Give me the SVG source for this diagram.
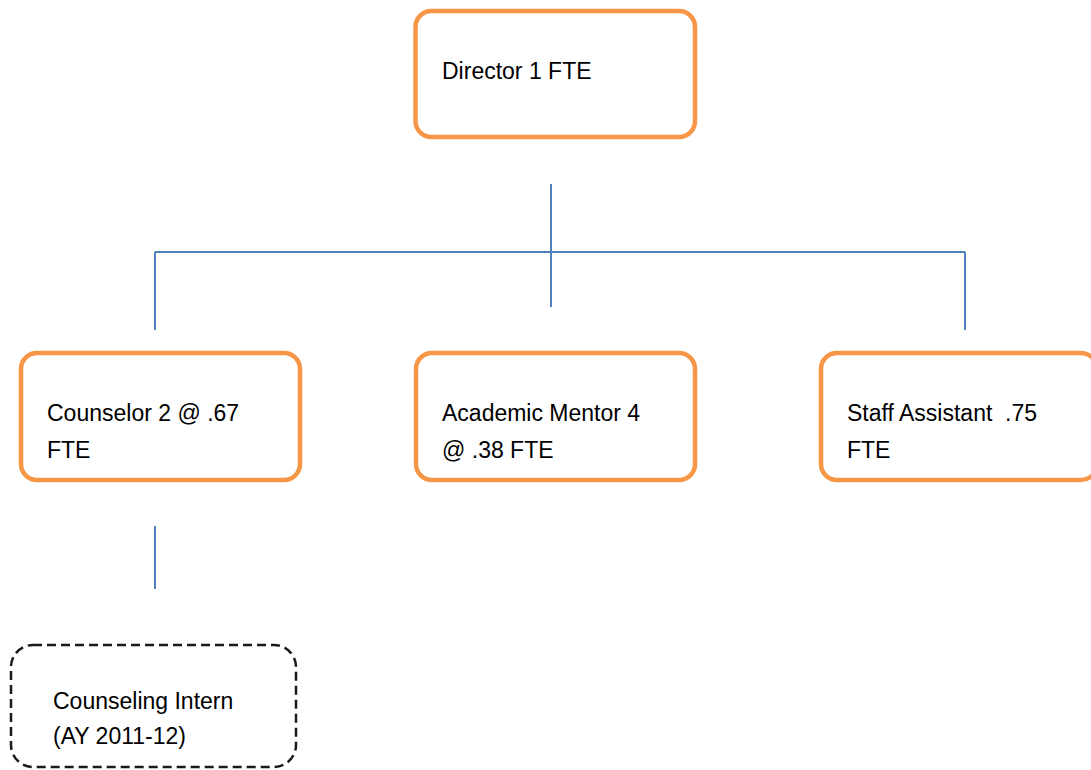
<svg xmlns="http://www.w3.org/2000/svg" width="1091" height="770" viewBox="0 0 1091 770">
<style>
.box{fill:#fff;stroke:#F79646;stroke-width:4.5}
.dash{fill:#fff;stroke:#1a1a1a;stroke-width:2.5;stroke-dasharray:9 5}
.ln{stroke:#4F81BD;stroke-width:2;fill:none}
text{font-family:"Liberation Sans",Arial,sans-serif;font-size:23px;fill:#000}
</style>
<rect width="1091" height="770" fill="#fff"/>
<g id="connectors">
<line class="ln" x1="551" y1="184" x2="551" y2="307"/>
<line class="ln" x1="155" y1="252" x2="965" y2="252"/>
<line class="ln" x1="155" y1="252" x2="155" y2="330"/>
<line class="ln" x1="965" y1="252" x2="965" y2="330"/>
<line class="ln" x1="155" y1="526" x2="155" y2="589"/>
</g>
<g id="director">
<rect class="box" x="415.5" y="11" width="279.5" height="126" rx="16"/>
<text x="442" y="79">Director 1 FTE</text>
</g>
<g id="counselor">
<rect class="box" x="21" y="353" width="279" height="127" rx="16"/>
<text x="47" y="421">Counselor 2 @ .67</text>
<text x="47" y="458">FTE</text>
</g>
<g id="mentor">
<rect class="box" x="416" y="353" width="279" height="127" rx="16"/>
<text x="442" y="421">Academic Mentor 4</text>
<text x="442" y="458">@ .38 FTE</text>
</g>
<g id="staff">
<rect class="box" x="821" y="353" width="276" height="127" rx="16"/>
<text x="847" y="421" xml:space="preserve">Staff Assistant  .75</text>
<text x="847" y="458">FTE</text>
</g>
<g id="intern">
<rect class="dash" x="11" y="645" width="285" height="122" rx="22"/>
<text x="53" y="709">Counseling Intern</text>
<text x="53" y="744">(AY 2011-12)</text>
</g>
</svg>
